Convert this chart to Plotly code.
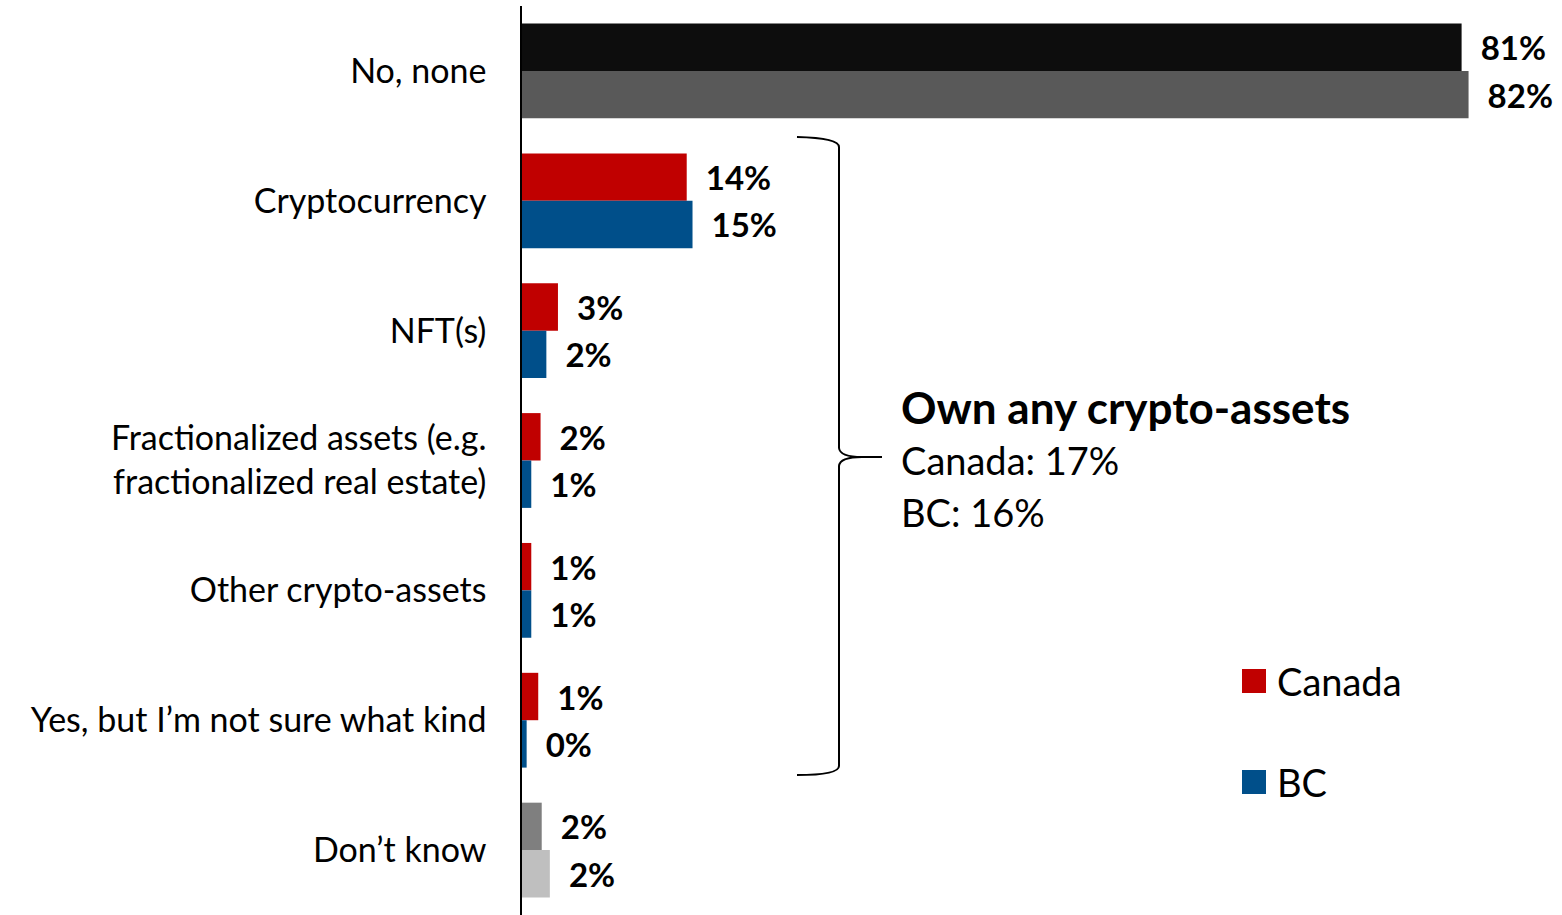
import plotly.graph_objects as go

# Survey responses: crypto-asset ownership, Canada vs BC (percent of respondents)
categories = [
    "No, none",
    "Cryptocurrency",
    "NFT(s)",
    "Fractionalized assets (e.g.<br>fractionalized real estate)",
    "Other crypto-assets",
    "Yes, but I\u2019m not sure what kind",
    "Don\u2019t know",
]
canada_values = [81.0, 14.2, 3.1, 1.6, 0.8, 1.4, 1.7]
bc_values = [81.6, 14.7, 2.1, 0.8, 0.8, 0.4, 2.4]

canada_colors = ["#0D0D0D", "#C00000", "#C00000", "#C00000", "#C00000", "#C00000", "#7F7F7F"]
bc_colors = ["#595959", "#004F8A", "#004F8A", "#004F8A", "#004F8A", "#004F8A", "#BFBFBF"]

own_any_title = "Own any crypto-assets"
own_any_lines = ["Canada: 17%", "BC: 16%"]
legend_items = [("Canada", "#C00000"), ("BC", "#004F8A")]

FONT = "Lato"
W, H = 1562, 915
ML, MT, MB, MR = 522, 6, 0, 0
PW, PH = W - ML - MR, H - MT - MB


def px(xp):
    return (xp - ML) / PW


def py(yp):
    return 1 - (yp - MT) / PH


fig = go.Figure()
for name, vals, cols in [("Canada", canada_values, canada_colors), ("BC", bc_values, bc_colors)]:
    fig.add_trace(go.Bar(
        name=name,
        y=categories,
        x=vals,
        orientation="h",
        marker=dict(color=cols, line=dict(width=0)),
        texttemplate="\u00a0\u00a0%{x:.0f}%",
        textposition="outside",
        textfont=dict(family=FONT, size=33, color="#000000", weight="bold"),
        constraintext="none",
        cliponaxis=False,
        showlegend=False,
        hoverinfo="skip",
    ))

# Curly brace grouping the "yes" answers
brace = (
    f"M {px(797)} {py(137)} Q {px(839)} {py(138)} {px(839)} {py(147)} "
    f"L {px(839)} {py(448)} Q {px(840)} {py(457)} {px(862)} {py(457)} L {px(882)} {py(457)} "
    f"M {px(862)} {py(457)} Q {px(840)} {py(457)} {px(839)} {py(466)} "
    f"L {px(839)} {py(766)} Q {px(839)} {py(775)} {px(797)} {py(775)}"
)
shapes = [dict(type="path", xref="paper", yref="paper", path=brace,
               line=dict(color="#000000", width=2))]

annotations = [
    dict(xref="paper", yref="paper", x=px(899), y=py(407), xanchor="left", yanchor="middle",
         text=f"<b>{own_any_title}</b>", showarrow=False,
         font=dict(family=FONT, size=44, color="#000000")),
]
for i, line in enumerate(own_any_lines):
    annotations.append(dict(xref="paper", yref="paper", x=px(899), y=py(460 + 52 * i),
                            xanchor="left", yanchor="middle", text=line, showarrow=False,
                            font=dict(family=FONT, size=38, color="#000000")))

# Legend drawn as swatches with labels
for i, (label, color) in enumerate(legend_items):
    top = 669 + 101 * i
    shapes.append(dict(type="rect", xref="paper", yref="paper",
                       x0=px(1242), x1=px(1266), y0=py(top), y1=py(top + 24),
                       fillcolor=color, line=dict(width=0)))
    annotations.append(dict(xref="paper", yref="paper", x=px(1275), y=py(top + 12),
                            xanchor="left", yanchor="middle", text=label, showarrow=False,
                            font=dict(family=FONT, size=38, color="#000000")))

fig.update_layout(
    width=W, height=H,
    margin=dict(l=ML, r=MR, t=MT, b=MB, pad=0),
    paper_bgcolor="#FFFFFF", plot_bgcolor="#FFFFFF",
    barmode="group", bargap=0.27, bargroupgap=0,
    shapes=shapes, annotations=annotations,
    xaxis=dict(range=[0, PW / 11.6], visible=False, fixedrange=True),
    yaxis=dict(autorange="reversed", showline=True, linecolor="#000000", linewidth=1.5,
               showgrid=False, zeroline=False, ticks="", ticklabelstandoff=27,
               tickfont=dict(family=FONT, size=34, color="#000000"), fixedrange=True),
)

fig.write_html("out.html")
